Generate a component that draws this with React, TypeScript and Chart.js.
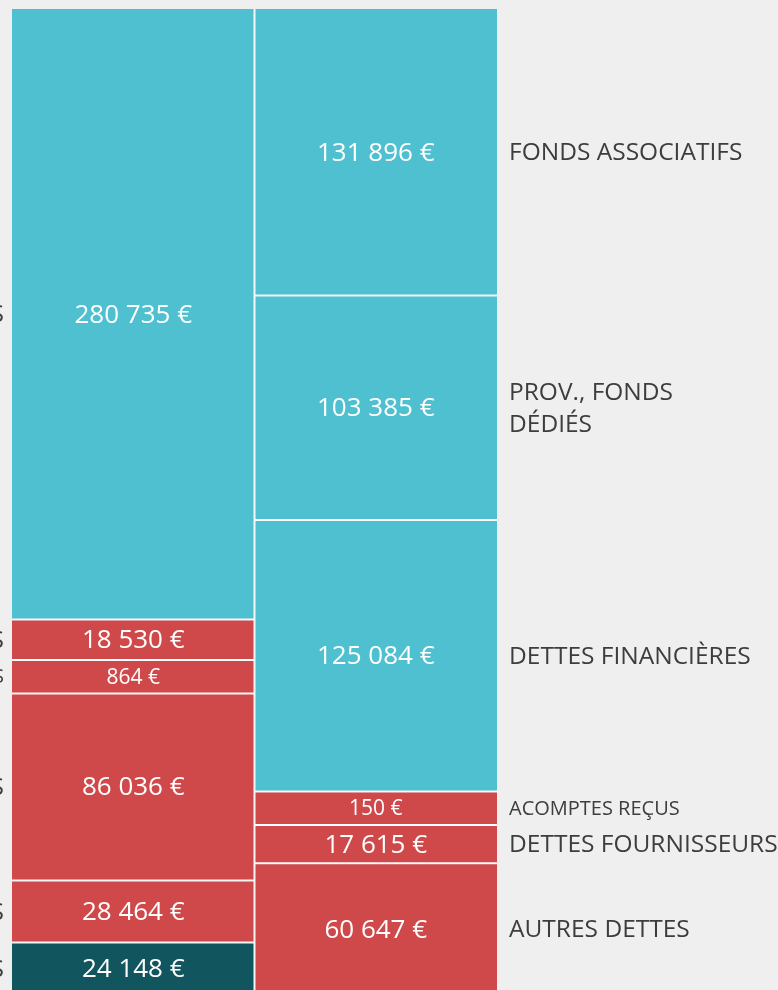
import React, { useEffect, useRef } from "react";
import { Chart, registerables } from "chart.js";

Chart.register(...registerables);

// ---- data ----
const COLUMNS = ["ACTIF", "PASSIF"];
const ACTIF_LABELS = [
  "IMMOBILISATIONS",
  "STOCKS",
  "AVANCES VERSÉES",
  "CRÉANCES",
  "AUTRES CRÉANCES",
  "DISPONIBILITÉS",
];
const ACTIF_VALUES = [280735, 18530, 864, 86036, 28464, 24148];
const PASSIF_LABELS = [
  "FONDS ASSOCIATIFS",
  "PROV., FONDS\nDÉDIÉS",
  "DETTES FINANCIÈRES",
  "ACOMPTES REÇUS",
  "DETTES FOURNISSEURS",
  "AUTRES DETTES",
];
const PASSIF_VALUES = [131896, 103385, 125084, 150, 17615, 60647];

const TEAL = "#4fc0d0";
const RED = "#cf494b";
const DARK = "#11565e";
const ACTIF_COLORS = [TEAL, RED, RED, RED, RED, DARK];
const PASSIF_COLORS = [TEAL, TEAL, TEAL, RED, RED, RED];

// minimum visible share of a column so tiny items remain readable
const MIN_SHARE = 0.034;
const SMALL_SHARE = 0.01;

function shares(values: number[]): number[] {
  const total = values.reduce((a, b) => a + b, 0);
  const small = values.map((v) => v / total < MIN_SHARE);
  const largeSum = values.reduce((a, v, i) => (small[i] ? a : a + v), 0);
  const nSmall = small.filter(Boolean).length;
  const avail = 1 - nSmall * MIN_SHARE;
  return values.map((v, i) => (small[i] ? MIN_SHARE : (v / largeSum) * avail));
}

function fmt(v: number): string {
  return v.toString().replace(/\B(?=(\d{3})+(?!\d))/g, " ") + " €";
}

const FONT = "'Open Sans', sans-serif";

export default function App() {
  const ref = useRef<HTMLCanvasElement | null>(null);

  useEffect(() => {
    const canvas = ref.current;
    if (!canvas) return;
    const aShares = shares(ACTIF_VALUES);
    const pShares = shares(PASSIF_VALUES);
    const aTotal = ACTIF_VALUES.reduce((a, b) => a + b, 0);
    const pTotal = PASSIF_VALUES.reduce((a, b) => a + b, 0);

    const datasets = ACTIF_VALUES.map((_, i) => ({
      label: `${ACTIF_LABELS[i]} / ${PASSIF_LABELS[i]}`,
      data: [aShares[i], pShares[i]],
      backgroundColor: [ACTIF_COLORS[i], PASSIF_COLORS[i]],
      borderColor: "#ffffff",
      borderSkipped: false as const,
      inflateAmount: 0,
      borderWidth: (c: any) => {
        const first = c.datasetIndex === 0;
        const last = c.datasetIndex === ACTIF_VALUES.length - 1;
        return c.dataIndex === 0
          ? { left: 0, right: 1, top: first ? 0 : 1, bottom: last ? 0 : 1 }
          : { left: 1, right: 0, top: first ? 0 : 1, bottom: last ? 0 : 1 };
      },
      categoryPercentage: 1,
      barPercentage: 1,
    }));

    const labelPlugin = {
      id: "segLabels",
      afterDatasetsDraw(chart: any) {
        const ctx = chart.ctx as CanvasRenderingContext2D;
        ctx.save();
        chart.data.datasets.forEach((ds: any, i: number) => {
          const meta = chart.getDatasetMeta(i);
          meta.data.forEach((el: any, j: number) => {
            const { x, y, base, width } = el.getProps(["x", "y", "base", "width"], true);
            const cy = (y + base) / 2;
            const val = j === 0 ? ACTIF_VALUES[i] : PASSIF_VALUES[i];
            const tot = j === 0 ? aTotal : pTotal;
            const small = val / tot < SMALL_SHARE;
            // value inside
            ctx.fillStyle = "#ffffff";
            ctx.textAlign = "center";
            ctx.textBaseline = "middle";
            ctx.font = `${small ? 21 : 26}px ${FONT}`;
            ctx.fillText(fmt(val), x, cy + 1);
            // category label outside
            ctx.fillStyle = "#3d3d3d";
            const name = j === 0 ? ACTIF_LABELS[i] : PASSIF_LABELS[i];
            const lines = name.split("\n");
            ctx.font = `${small ? 20 : 24.5}px ${FONT}`;
            const lh = 32;
            const startY = cy - ((lines.length - 1) * lh) / 2;
            if (j === 1) {
              ctx.textAlign = "left";
              lines.forEach((ln, k) => ctx.fillText(ln, x + width / 2 + 12, startY + k * lh + 1));
            } else {
              ctx.textAlign = "right";
              lines.forEach((ln, k) => ctx.fillText(ln, x - width / 2 - 8, startY + k * lh + 1));
            }
          });
        });
        ctx.restore();
      },
    };

    const chart = new Chart(canvas, {
      type: "bar",
      data: { labels: COLUMNS, datasets: datasets as any },
      options: {
        responsive: false,
        animation: false,
        layout: { padding: { left: 12, right: 281, top: 9, bottom: 5 } },
        plugins: { legend: { display: false }, tooltip: { enabled: false } },
        scales: {
          x: { display: false, stacked: true, grid: { display: false } },
          y: { display: false, stacked: true, min: 0, max: 1, reverse: true, grid: { display: false } },
        },
      },
      plugins: [labelPlugin],
    });
    return () => chart.destroy();
  }, []);

  return (
    <div
      style={{
        position: "fixed",
        left: 0,
        top: 0,
        width: 778,
        height: 1000,
        overflow: "hidden",
        background: "#efefef",
      }}
    >
      <canvas ref={ref} width={778} height={1000} style={{ display: "block", width: 778, height: 1000 }} />
    </div>
  );
}
